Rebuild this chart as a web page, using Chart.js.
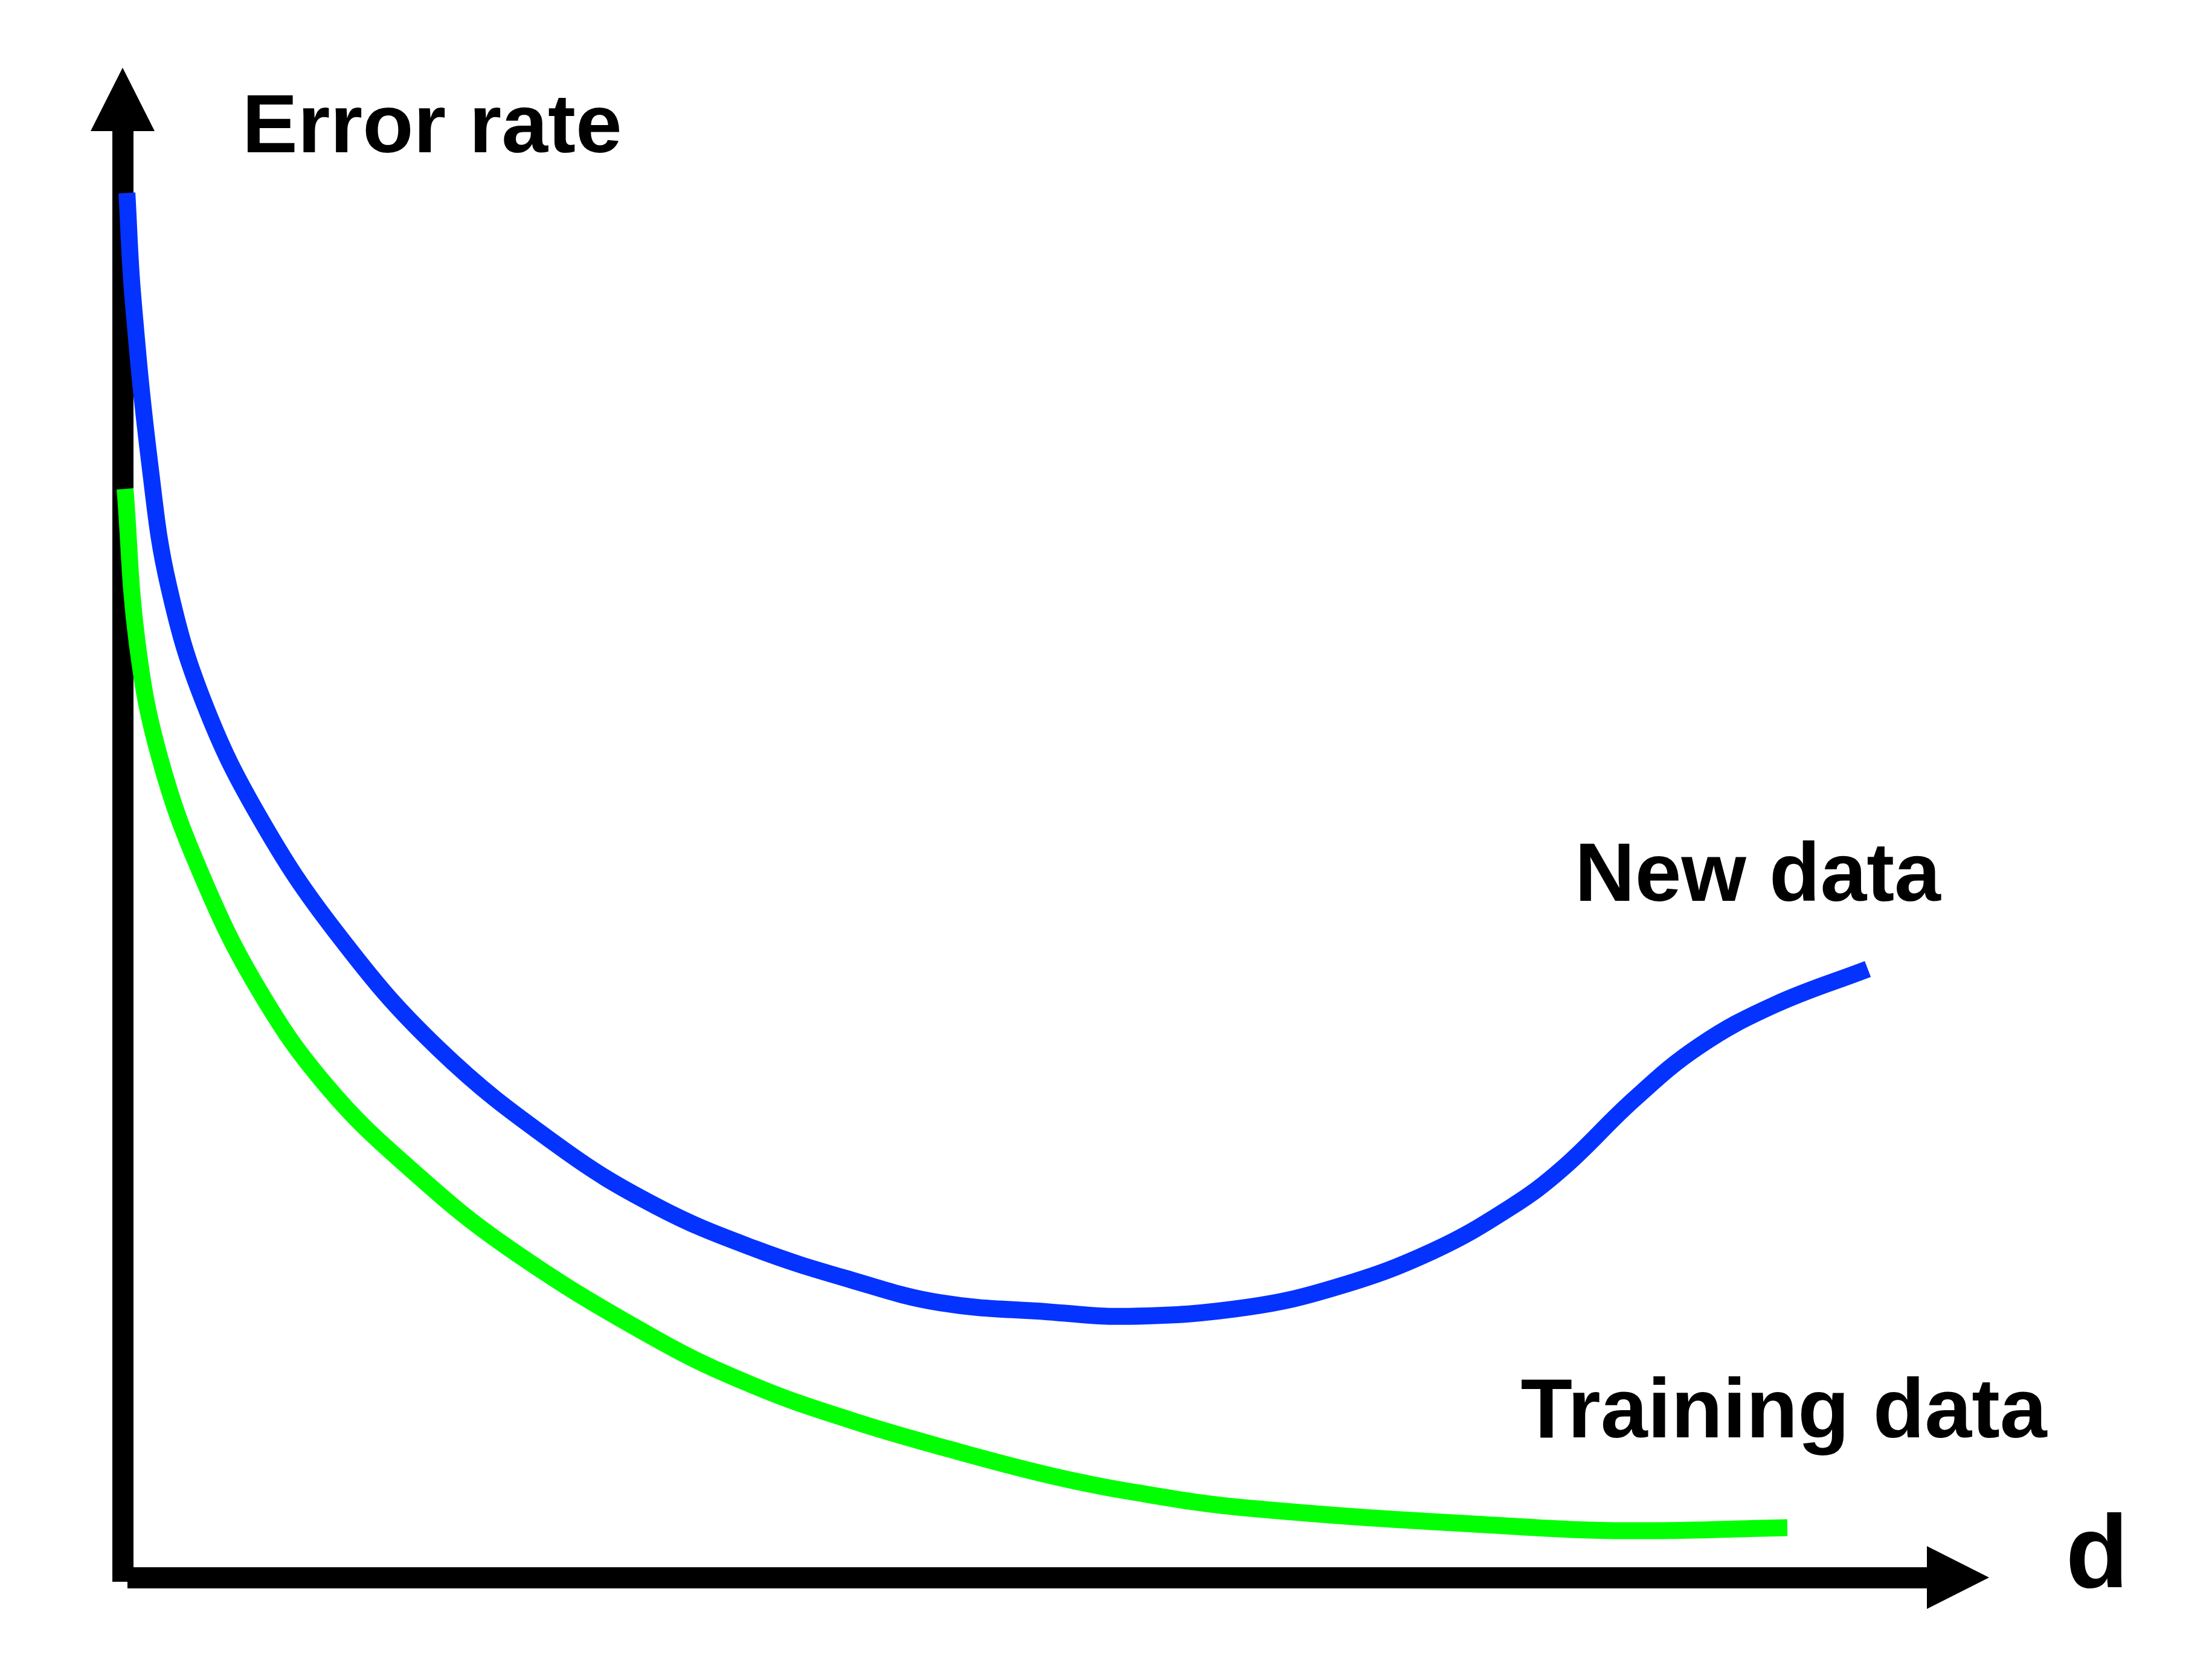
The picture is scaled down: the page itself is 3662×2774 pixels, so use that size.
<!DOCTYPE html>
<html lang="en">
<head>
    <meta charset="UTF-8">
    <title>Error rate vs d</title>
    <style>
      body { margin: 0; background: #fff; }
      #wrap { width: 3662px; height: 2774px; }
    </style>
</head>

<script src="https://cdn.jsdelivr.net/npm/chart.js@4.4.0/dist/chart.umd.min.js"></script>

<body>
  <div id="wrap"><canvas id="errChart" width="3662" height="2774"></canvas></div>

<script>
  // d (model complexity) and error rate (% of the y axis)
  var newDataD   = [0.023, 0.055, 0.149, 0.246, 0.434, 0.731, 1.146, 1.686, 2.333, 2.858, 3.382, 3.906,
                    4.379, 4.955, 5.395, 6.026, 6.521, 7.016, 7.434, 7.715, 8.100, 8.447, 8.845, 9.350];
  var newDataErr = [91.7, 84.8, 73.4, 65.7, 58.0, 50.4, 42.7, 35.1, 28.6, 24.6, 21.8, 19.7,
                    18.2, 17.6, 17.3, 17.9, 19.3, 21.6, 24.5, 27.1, 31.7, 35.2, 37.9, 40.3];

  var trainD   = [0.013, 0.078, 0.201, 0.424, 0.731, 1.097, 1.547, 2.071, 2.858, 3.382, 3.906, 4.430,
                  4.955, 5.395, 6.026, 7.434, 8.081, 8.919];
  var trainErr = [72.1, 61.9, 54.2, 46.5, 38.9, 32.5, 27.0, 21.8, 15.8, 12.7, 10.4, 8.5,
                  6.8, 5.7, 4.6, 3.4, 3.1, 3.3];

  var seriesNames  = ['New data', 'Training data'];
  var seriesColors = ['#0433ff', '#00ff00'];

  function toPoints(xs, ys) {
    return xs.map(function(x, i){ return {x: x, y: ys[i]} })
  }

  // axes with arrow heads + text labels
  var sketchAxes = {
    id: 'sketchAxes',
    beforeDatasetsDraw: function(chart) {
      var c = chart.ctx, a = chart.chartArea
      c.save()
      c.fillStyle = '#000'
      // vertical axis
      c.fillRect(a.left - 17, a.top + 104, 35, a.bottom - a.top - 97)
      c.beginPath()
      c.moveTo(a.left, a.top)
      c.lineTo(a.left + 53, a.top + 105)
      c.lineTo(a.left - 53, a.top + 105)
      c.closePath()
      c.fill()
      // horizontal axis
      c.fillRect(a.left + 8, a.bottom - 17, a.right - a.left - 110, 35)
      c.beginPath()
      c.moveTo(a.right, a.bottom)
      c.lineTo(a.right - 103, a.bottom - 52)
      c.lineTo(a.right - 103, a.bottom + 52)
      c.closePath()
      c.fill()
      c.restore()
    },
    afterDraw: function(chart) {
      var c = chart.ctx
      var xs = chart.scales.x, ys = chart.scales.y
      c.save()
      c.fillStyle = '#000'
      c.textBaseline = 'alphabetic'
      c.textAlign = 'left'
      c.font = 'bold 138px "Liberation Sans", Arial, sans-serif'
      c.fillText('Error rate', xs.getPixelForValue(0.64), ys.getPixelForValue(94.4))
      c.fillText(seriesNames[0], xs.getPixelForValue(7.78), ys.getPixelForValue(44.8))
      c.font = 'bold 140px "Liberation Sans", Arial, sans-serif'
      c.fillText(seriesNames[1], xs.getPixelForValue(7.49), ys.getPixelForValue(9.28))
      c.font = 'bold 170px "Liberation Sans", Arial, sans-serif'
      c.fillText('d', xs.getPixelForValue(10.41), ys.getPixelForValue(-0.64))
      c.restore()
    }
  }

  var ctx = document.getElementById('errChart').getContext('2d')
  var errChart = new Chart(ctx, {
    type: 'scatter',
    data: {
      datasets: [
        {
          label: seriesNames[0],
          data: toPoints(newDataD, newDataErr),
          showLine: true,
          borderColor: seriesColors[0],
          borderWidth: 28,
          pointRadius: 0,
          tension: 0.4,
          clip: false
        },
        {
          label: seriesNames[1],
          data: toPoints(trainD, trainErr),
          showLine: true,
          borderColor: seriesColors[1],
          borderWidth: 28,
          pointRadius: 0,
          tension: 0.4,
          clip: false
        }
      ]
    },
    options: {
      responsive: false,
      animation: false,
      events: [],
      layout: { padding: { left: 203, right: 369, top: 112, bottom: 163 } },
      scales: {
        x: { type: 'linear', min: 0, max: 10, display: false },
        y: { type: 'linear', min: 0, max: 100, display: false }
      },
      plugins: {
        legend: { display: false },
        tooltip: { enabled: false }
      }
    },
    plugins: [sketchAxes]
  });
</script>
</body>
</html>
